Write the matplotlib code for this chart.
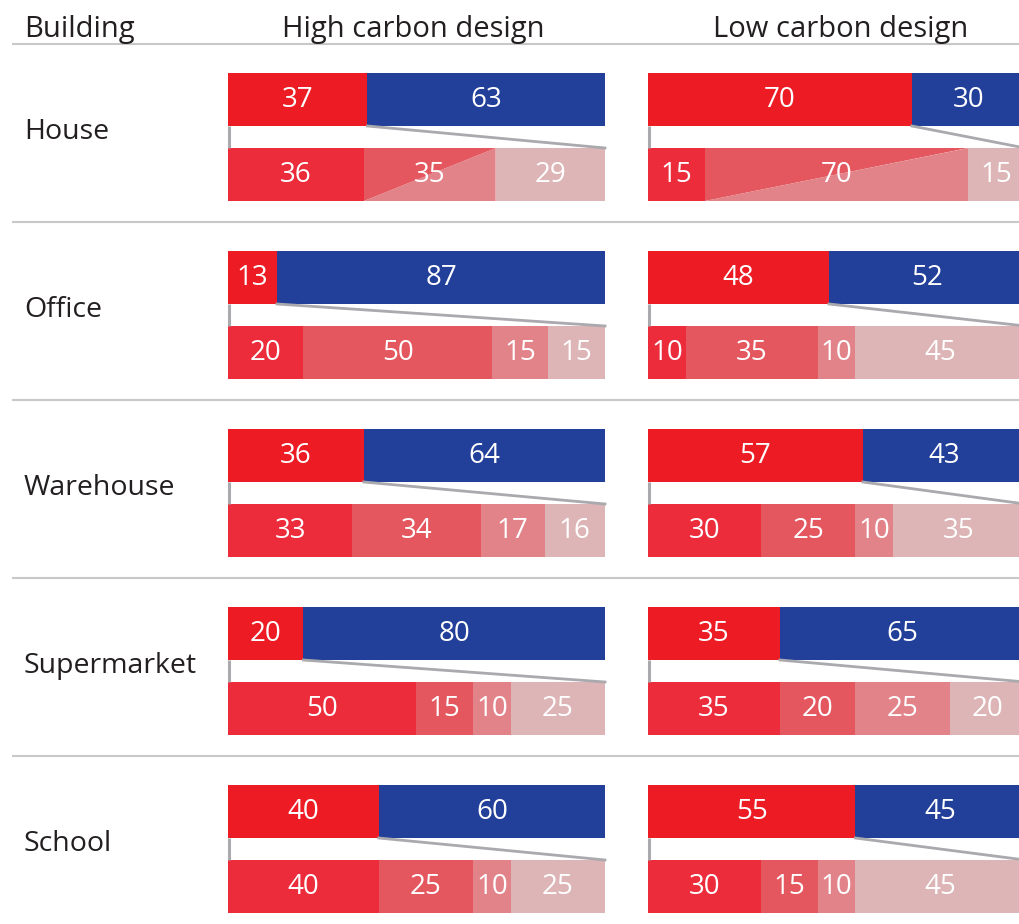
import matplotlib
matplotlib.use("Agg")
import matplotlib.pyplot as plt
from matplotlib.patches import Polygon

# ---- data -------------------------------------------------------------
buildings = ["House", "Office", "Warehouse", "Supermarket", "School"]
columns = ["High carbon design", "Low carbon design"]

high_red = [37, 13, 36, 20, 40]
high_blue = [63, 87, 64, 80, 60]
low_red = [70, 48, 57, 35, 55]
low_blue = [30, 52, 43, 65, 45]

high_breakdown = [
    [36, 35, 29],
    [20, 50, 15, 15],
    [33, 34, 17, 16],
    [50, 15, 10, 25],
    [40, 25, 10, 25],
]
low_breakdown = [
    [15, 70, 15],
    [10, 35, 10, 45],
    [30, 25, 10, 35],
    [35, 20, 25, 20],
    [30, 15, 10, 45],
]

# ---- style ------------------------------------------------------------
RED = "#ED1C24"
BLUE = "#22409A"
SHADES = ["#EC2B3B", "#E5575F", "#E2838A", "#DDB5B6"]
LINK = "#A9A9AE"
SEP = "#C8C8C8"
TEXT = "#231F20"
FONT = "Open Sans"

W, H = 1020, 924
fig = plt.figure(figsize=(W / 100, H / 100), dpi=100)

# background axes in pixel units for headers, labels and separators
bg = fig.add_axes([0, 0, 1, 1])
bg.set_xlim(0, W)
bg.set_ylim(H, 0)
bg.axis("off")

panel_left = [228, 648]
panel_width = 377
row_top0, row_pitch = 73, 178
bar_h, gap = 53, 22
panel_h = 2 * bar_h + gap
title_x = [413, 841]

bg.text(24, 29, "Building", fontsize=21, family=FONT, color=TEXT,
        va="center", ha="left")
for c, title in enumerate(columns):
    bg.text(title_x[c], 29, title, fontsize=21,
            family=FONT, color=TEXT, va="center", ha="center")

sep_ys = [44] + [row_top0 + r * row_pitch + panel_h + 21 for r in range(4)]
for y in sep_ys:
    bg.plot([12, W], [y, y], color=SEP, lw=1.5, solid_capstyle="butt")


def label(ax, x, y, v):
    ax.text(x, y, str(v), fontsize=20, family=FONT, color="white",
            ha="center", va="center", clip_on=False)


for r, name in enumerate(buildings):
    top = row_top0 + r * row_pitch
    bg.text(24, top + bar_h + gap / 2 - 5, name, fontsize=20.5, family=FONT,
            color=TEXT, va="center", ha="left")

    for c in range(2):
        red = (high_red, low_red)[c][r]
        blue = (high_blue, low_blue)[c][r]
        parts = (high_breakdown, low_breakdown)[c][r]

        ax = fig.add_axes([panel_left[c] / W, 1 - (top + panel_h) / H,
                           panel_width / W, panel_h / H])
        ax.set_xlim(0, 100)
        ax.set_ylim(panel_h, 0)
        ax.axis("off")

        # share bar: red vs blue
        ax.barh(bar_h / 2, red, height=bar_h, left=0, color=RED, lw=0)
        ax.barh(bar_h / 2, blue, height=bar_h, left=red, color=BLUE, lw=0)
        label(ax, red / 2, bar_h / 2 + 0.5, red)
        label(ax, red + blue / 2, bar_h / 2 + 0.5, blue)

        # breakdown bar
        y0 = bar_h + gap
        yc = y0 + bar_h / 2
        if len(parts) == 4:
            colors = SHADES
        else:
            colors = [SHADES[0], None, SHADES[3]]
        left = 0
        for v, col in zip(parts, colors):
            if col is None:
                # middle part split diagonally between two shades
                ax.add_patch(Polygon([(left, y0 + bar_h), (left, y0),
                                      (left + v, y0)], closed=True,
                                     color=SHADES[1], lw=0))
                ax.add_patch(Polygon([(left, y0 + bar_h), (left + v, y0),
                                      (left + v, y0 + bar_h)], closed=True,
                                     color=SHADES[2], lw=0))
            else:
                ax.barh(yc, v, height=bar_h, left=left, color=col, lw=0)
            label(ax, left + v / 2, yc + 0.5, v)
            left += v

        # connectors from the red share down to the breakdown
        ax.plot([0.15, 0.15], [bar_h, y0], color=LINK, lw=2.2, clip_on=False,
                solid_capstyle="butt")
        ax.plot([red, 100], [bar_h, y0], color=LINK, lw=2, clip_on=False)

fig.savefig("out.png", dpi=100)
